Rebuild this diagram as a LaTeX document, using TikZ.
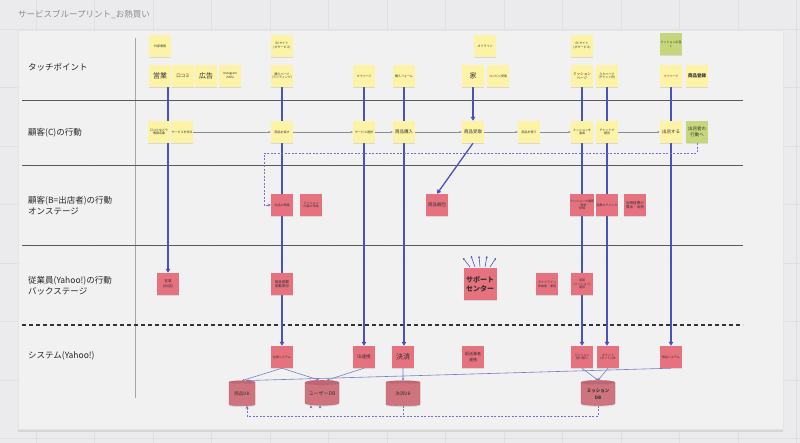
\documentclass[tikz,border=0pt]{standalone}
\usepackage{fontspec}
\setmainfont{Noto Sans CJK JP}
\usetikzlibrary{shapes.geometric,arrows.meta,shadows,calc}
\definecolor{bgc}{HTML}{EBEBED}
\definecolor{panelc}{HTML}{F3F3F4}
\definecolor{gridc}{HTML}{E0E0E3}
\definecolor{stky}{HTML}{FCF3A6}
\definecolor{pinkn}{HTML}{E6717F}
\definecolor{greenn}{HTML}{C6D67B}
\definecolor{flowc}{HTML}{4A52B8}
\definecolor{txtc}{HTML}{333333}
\pgfdeclarelayer{bglayer}
\pgfdeclarelayer{linelayer}
\pgfsetlayers{bglayer,linelayer,main}
\tikzset{
  note/.style={minimum width=22pt, minimum height=22pt, inner sep=0.3pt, align=center, text=txtc,
    font=\fontsize{3}{3.8}\selectfont,
    drop shadow={opacity=0.22, shadow xshift=0pt, shadow yshift=-1.3pt}},
  ynote/.style={note, fill=stky},
  pnote/.style={note, fill=pinkn},
  gnote/.style={note, fill=greenn},
  bigt/.style={font=\fontsize{7}{8}\selectfont},
  midt/.style={font=\fontsize{4.5}{5.5}\selectfont},
  smallt/.style={font=\fontsize{3.6}{4.4}\selectfont},
  lanelabel/.style={anchor=west, text=black!85, font=\fontsize{8.5}{11}\selectfont, align=left, inner sep=0pt},
  flowline/.style={draw=flowc, line width=1.3pt},
  flowarrow/.style={flowline, -{Triangle[length=4pt,width=4.5pt]}},
  steparr/.style={draw=black!45, line width=0.4pt, -{Stealth[length=2.5pt,width=2pt]}},
  sysarr/.style={draw=flowc!75, line width=0.6pt, -{Stealth[length=2.5pt,width=2.5pt]}},
  dashflow/.style={draw=flowc!80, line width=0.7pt, dash pattern=on 2pt off 1.5pt},
  dashflowarr/.style={dashflow, -{Stealth[length=3pt,width=3pt]}},
  lanesep/.style={draw=black!65, line width=0.9pt},
  dbcyl/.style={cylinder, shape border rotate=90, aspect=0.18, draw=pinkn!80!black, line width=0.3pt,
    cylinder uses custom fill, cylinder body fill=pinkn, cylinder end fill=pinkn!88!black,
    minimum height=25pt, minimum width=34pt, inner sep=0pt, align=center, text=txtc,
    font=\fontsize{4.5}{5.5}\selectfont,
    drop shadow={opacity=0.22, shadow xshift=0pt, shadow yshift=-1.3pt}}
}
\begin{document}
\begin{tikzpicture}[x=1pt,y=-1pt]
\useasboundingbox (0,0) rectangle (800,443);
\begin{pgfonlayer}{bglayer}
\fill[bgc] (0,0) rectangle (800,443);
\foreach \gx in {36,94.5,...,800} \draw[gridc, line width=0.6pt] (\gx,0) -- (\gx,443);
\foreach \gy in {29,87.5,...,443} \draw[gridc, line width=0.6pt] (0,\gy) -- (800,\gy);
\fill[black!16] (18,428) rectangle (783,432);
\fill[panelc, opacity=0.85] (18,30) rectangle (783,429);
\draw[black!10, line width=0.5pt] (18,30) rectangle (783,429);
\draw[black!35, line width=0.7pt] (135,38) -- (135,398);
\draw[lanesep] (22,100) -- (743,100);
\draw[lanesep] (22,165) -- (743,165);
\draw[lanesep] (22,245) -- (743,245);
\draw[black!80, line width=1.1pt, dash pattern=on 4pt off 3pt] (22,325) -- (743,325);
\end{pgfonlayer}

\node[anchor=west, text=black!45, font=\fontsize{8.5}{10}\selectfont, inner sep=0pt] (title) at (18,14) {サービスブループリント\_お熱買い};

\node[lanelabel] (l1) at (28,67) {タッチポイント};
\node[lanelabel] (l2) at (28,133) {顧客(C)の行動};
\node[lanelabel] (l3) at (28,206) {顧客(B=出店者)の行動\\オンステージ};
\node[lanelabel] (l4) at (28,286) {従業員(Yahoo!)の行動\\バックステージ};
\node[lanelabel] (l5) at (28,356) {システム(Yahoo!)};

% touchpoints row 1
\node[ynote] (gaibu) at (160,46) {外部情報};
\node[ynote] (ec1) at (282,46) {ECサイト\\(ボサービス)};
\node[ynote] (offl) at (485,46) {オフライン};
\node[ynote] (ec2) at (582,46) {ECサイト\\(ボサービス)};
\node[gnote] (gad) at (671,44) {ミッション広告\\1};
% touchpoints row 2
\node[ynote, bigt] (eigyo) at (160,76) {営業};
\node[ynote, midt] (kuchi) at (183,76) {口コミ};
\node[ynote, bigt] (kokoku) at (206,76) {広告};
\node[ynote] (insta) at (230,76) {Instagram\\(SNS)};
\node[ynote] (lp) at (282,76) {購入ページ\\(ランディング)};
\node[ynote] (myp1) at (364,76) {マイページ};
\node[ynote] (form) at (404,76) {購入フォーム};
\node[ynote, bigt] (ie) at (473,76) {家};
\node[ynote] (conv) at (498,76) {コンビニ受取};
\node[ynote, smallt] (mpage) at (582,76) {ミッション\\ページ};
\node[ynote] (inpt) at (607,76) {入力ページ\\(チャット形)};
\node[ynote] (myp2) at (671,76) {マイページ};
\node[ynote, midt] (toroku) at (697,76) {\textbf{商品登録}};

% customer row
\node[ynote] (c1) at (159,132) {口コミなどで\\情報収集};
\node[ynote] (c2) at (182,132) {サービスを知る};
\node[ynote] (c3) at (282,132) {商品を探す};
\node[ynote] (c4) at (364,132) {サービス選択};
\node[ynote, midt] (c5) at (404,132) {商品購入};
\node[ynote, midt] (c6) at (473,132) {商品受取};
\node[ynote] (c7) at (529,132) {商品を使う};
\node[ynote] (c8) at (582,132) {ミッションを\\達成};
\node[ynote] (c9) at (607,132) {チャットで\\報告};
\node[ynote, midt] (c10) at (671,132) {出店する};
\node[gnote, midt] (c11) at (697,132) {出店者の\\行動へ};

% business (onstage)
\node[pnote] (b1) at (282,205) {出品の準備};
\node[pnote] (b2) at (311,205) {ミッション\\内容の作成};
\node[pnote, midt] (b3) at (437,205) {商品梱包};
\node[pnote] (b4) at (582,205) {ミッションの確認\\・報告\\評価};
\node[pnote] (b5) at (607,205) {結果のチェック};
\node[pnote, smallt] (b6) at (635,205) {出荷経費の\\算出・出荷};

% staff (backstage)
\node[pnote, smallt] (s1) at (168,284) {営業\\(出店)};
\node[pnote, smallt] (s2) at (282,284) {商品掲載\\変動表示};
\node[pnote, minimum width=33pt, minimum height=32pt, font=\fontsize{7}{9}\selectfont] (sup) at (480,284) {\textbf{サポート}\\\textbf{センター}};
\node[pnote] (s3) at (547,284) {ガイドライン\\作成者・運用};
\node[pnote] (s4) at (582,284) {承認\\(ミッション)\\運用};

% system
\node[pnote] (y1) at (282,357) {在庫システム};
\node[pnote, midt] (y2) at (364,357) {ID連携};
\node[pnote, bigt] (y3) at (403,357) {決済};
\node[pnote, font=\fontsize{4}{5.2}\selectfont] (y4) at (473,357) {配送業者\\連携};
\node[pnote] (y5) at (582,357) {ミッション\\受け取り};
\node[pnote] (y6) at (608,357) {ポイント\\(ギフト)DB};
\node[pnote] (y7) at (671,357) {商品システム};

% databases
\node[dbcyl, minimum width=26pt] (pdb) at (242,394) {商品DB};
\node[dbcyl, font=\fontsize{5}{6}\selectfont] (udb) at (322,394) {ユーザーDB};
\node[dbcyl] (kdb) at (403,394) {決済DB};
\node[dbcyl, font=\fontsize{4.5}{6.5}\selectfont] (mdb) at (598,394) {\textbf{ミッション}\\\textbf{DB}};

\coordinate (dashA) at (264,153);
\coordinate (dashB) at (420,416);
\coordinate (sa1) at (463,258);
\coordinate (sa2) at (471,256);
\coordinate (sa3) at (479,256);
\coordinate (sa4) at (487,256);
\coordinate (sa5) at (496,258);

\begin{pgfonlayer}{linelayer}
% vertical flows
\draw[flowarrow] (eigyo.south -| s1.north) -- (s1.north);
\draw[flowarrow] (lp.south) -- (y1.north);
\draw[flowarrow] (myp1.south) -- (y2.north);
\draw[flowarrow] (form.south) -- (form.south |- y3.north);
\draw[flowarrow] (ie.south) -- (c6.north);
\draw[flowarrow] (mpage.south) -- (y5.north);
\draw[flowarrow] (inpt.south) -- (inpt.south |- y6.north);
\draw[flowarrow] (myp2.south) -- (y7.north);
\draw[flowarrow] (c6.south) -- (b3.north);
% customer steps
\draw[steparr] (c2) -- (c3);
\draw[steparr] (c3) -- (c4);
\draw[steparr] (c4) -- (c5);
\draw[steparr] (c5) -- (c6);
\draw[steparr] (c6) -- (c7);
\draw[steparr] (c7) -- (c8);
\draw[steparr] (c9) -- (c10);
% dashed feedback
\draw[dashflowarr] (c11.south) |- (dashA) |- (b1.west);
% support arrows
\foreach \i/\bx in {1/470,2/475,3/480,4/485,5/490}
  \draw[draw=flowc, line width=0.6pt, -{Stealth[length=2pt,width=2pt]}] (\bx,267) -- (sa\i);
% system connections
\draw[sysarr] (y1.south) -- (pdb.north);
\draw[sysarr] (y1.south) -- ($(udb.north)+(-3,0)$);
\draw[sysarr] (y2.south) -- ($(udb.north)+(5,0)$);
\draw[sysarr] (y7.south) -- ($(pdb.north)+(4,0)$);
\draw[sysarr] (y3.south) -- (kdb.north);
\draw[sysarr] (y5.south) -- (mdb.north);
\draw[sysarr] (y6.south) -- (mdb.north);
% dashed db links
\draw[dashflowarr] (mdb.south) |- (dashB) -| ($(pdb.south)+(5,0)$);
\draw[dashflowarr] ($(udb.south)+(-11,0)$ |- dashB) -- ($(udb.south)+(-11,0)$);
\draw[dashflowarr] ($(udb.south)+(-2,0)$ |- dashB) -- ($(udb.south)+(-2,0)$);
\draw[dashflow] (kdb.south) -- (kdb.south |- dashB);
\end{pgfonlayer}
\end{tikzpicture}
\end{document}
